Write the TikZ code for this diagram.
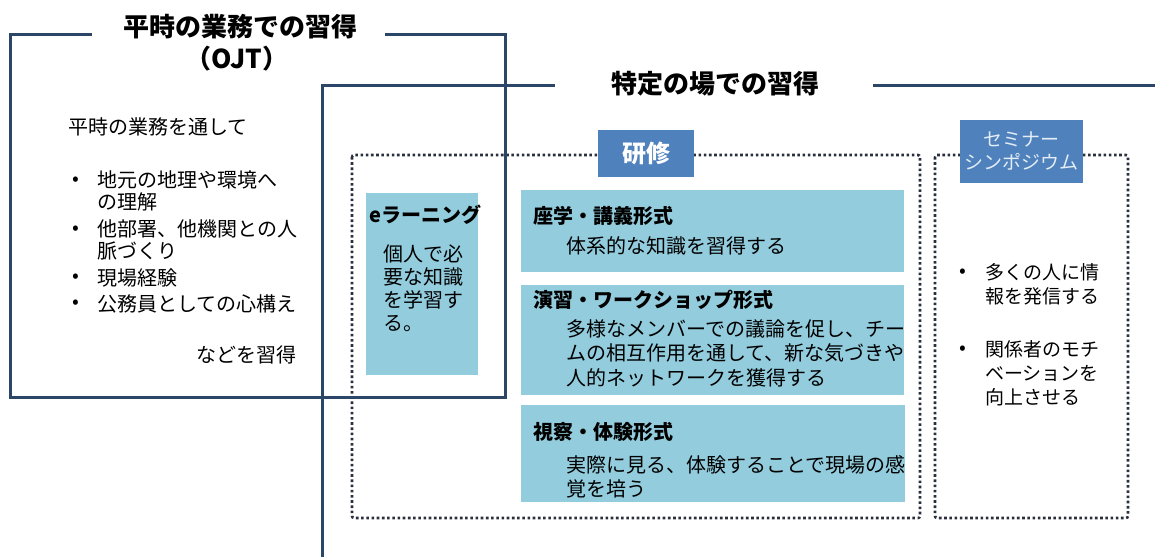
\documentclass[tikz,border=0pt]{standalone}
\usepackage{fontspec}
\setmainfont{Noto Sans CJK JP}
\definecolor{navy}{RGB}{44,70,104}
\definecolor{dotc}{RGB}{40,48,62}
\definecolor{lblue}{RGB}{146,204,221}
\definecolor{mblue}{RGB}{79,129,189}
\begin{document}
\begin{tikzpicture}[x=1pt,y=-1pt,
  frame/.style={draw=navy,line width=3pt},
  dotbox/.style={draw=dotc,line width=2.6pt,dash pattern=on 2.6pt off 2.6pt,rounded corners=2pt},
  lbox/.style={fill=lblue,inner sep=0},
  tag/.style={fill=mblue,text=white,inner sep=0,align=center},
  body/.style={font=\fontsize{20}{23}\selectfont,inner sep=0,align=left,anchor=north west},
  line/.style={font=\fontsize{20}{23}\selectfont,inner sep=0,anchor=west},
  head/.style={font=\fontsize{20}{23}\selectfont\bfseries,inner sep=0,anchor=west},
  bul/.style={font=\fontsize{20}{20}\selectfont,inner sep=0},
  title/.style={font=\fontsize{26}{30}\selectfont\bfseries,inner sep=0}]
\useasboundingbox[fill=white] (0,0) rectangle (1155,557);

% dotted group frames
\draw[dotbox] (352,155) rectangle (920,518);
\draw[dotbox] (935,155) rectangle (1128,518);

% light blue boxes
\node[lbox,minimum width=112,minimum height=182] (elearn) at (422,284) {};
\node[lbox,minimum width=383,minimum height=82] (zagaku) at (712.5,231) {};
\node[lbox,minimum width=383,minimum height=110] (enshu) at (712.5,340) {};
\node[lbox,minimum width=384,minimum height=97] (shisatsu) at (713,453.5) {};

% tag boxes
\node[tag,minimum width=96,minimum height=47,font=\fontsize{24}{28}\selectfont\bfseries] (kenshu) at (646,153.5) {研修};
\node[tag,minimum width=123,minimum height=63,text=white!85!mblue,font=\fontsize{19}{23}\selectfont] (seminar) at (1021.5,151.5) {セミナー\\シンポジウム};

% frames
\draw[frame] (92,34) -- (10,34) -- (10,397) -- (505,397) -- (505,34) -- (385,34);
\draw[frame] (555,85) -- (322,85) -- (322,557);
\draw[frame] (873,85) -- (1155,85);

% titles
\node[title] (t1) at (240,27) {平時の業務での習得};
\node[title] (t1b) at (237,59) {（OJT）};
\node[title] (t2) at (715,84) {特定の場での習得};

% OJT text
\node[line] (ojt0) at (68,127) {平時の業務を通して};
\node[bul] (b1) at (76,181) {•};
\node[body,font=\fontsize{20}{22}\selectfont] (ojt1) at (97,170) {地元の地理や環境へ\\の理解};
\node[bul] (b2) at (76,230) {•};
\node[body,font=\fontsize{20}{22}\selectfont] (ojt2) at (97,219) {他部署、他機関との人\\脈づくり};
\node[bul] (b3) at (76,278) {•};
\node[line] (ojt3) at (97,278) {現場経験};
\node[bul] (b4) at (76,304) {•};
\node[line] (ojt4) at (97,304) {公務員としての心構え};
\node[line,anchor=east] (ojt5) at (297,355) {などを習得};

% e-learning
\node[head] (eh) at (369,215) {eラーニング};
\node[body] (eb) at (383,245) {個人で必\\要な知識\\を学習す\\る。};

% zagaku
\node[head] (zh) at (533,216) {座学・講義形式};
\node[line] (zb) at (566,246) {体系的な知識を習得する};

% enshu
\node[head] (enh) at (533,300) {演習・ワークショップ形式};
\node[body,font=\fontsize{20}{24.5}\selectfont] (enb) at (566,319) {多様なメンバーでの議論を促し、チー\\ムの相互作用を通して、新な気づきや\\人的ネットワークを獲得する};

% shisatsu
\node[head] (sh) at (533,432) {視察・体験形式};
\node[body,font=\fontsize{20}{24}\selectfont] (sb) at (566,455) {実際に見る、体験することで現場の感\\覚を培う};

% seminar bullets
\node[bul] (sb1) at (963,273) {•};
\node[body,font=\fontsize{19}{24}\selectfont] (st1) at (985,263) {多くの人に情\\報を発信する};
\node[bul] (sb2) at (963,350) {•};
\node[body,font=\fontsize{19}{24}\selectfont] (st2) at (985,340) {関係者のモチ\\ベーションを\\向上させる};
\end{tikzpicture}
\end{document}
